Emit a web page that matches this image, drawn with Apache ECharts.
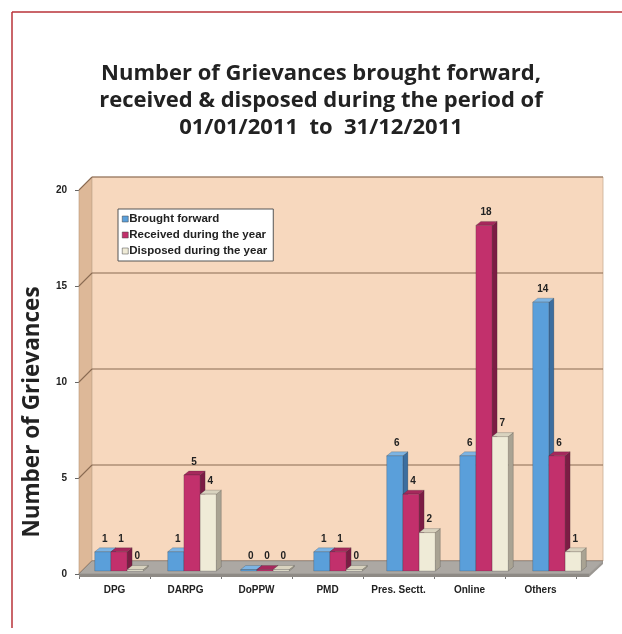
<!DOCTYPE html>
<html>
<head>
<meta charset="utf-8">
<script src="https://cdn.jsdelivr.net/npm/echarts@6/dist/echarts.min.js"></script>
<style>
  html, body { margin: 0; padding: 0; background: #ffffff; }
  #chart { width: 622px; height: 634px; }
</style>
</head>
<body>
<div id="chart"></div>
<script>
// Grievance counts per source, calendar year 2011
const categories = ['DPG', 'DARPG', 'DoPPW', 'PMD', 'Pres. Sectt.', 'Online', 'Others'];
const broughtForward = [1, 1, 0, 1, 6, 6, 14];
const receivedDuringYear = [1, 5, 0, 1, 4, 18, 6];
const disposedDuringYear = [0, 4, 0, 0, 2, 7, 1];
const seriesNames = ['Brought forward', 'Received during the year', 'Disposed during the year'];
const yTicks = [0, 5, 10, 15, 20];

const LABEL_FONT = '"Liberation Sans", Arial, sans-serif';
const TITLE_FONT = '"Open Sans", Lato, sans-serif';

// front / right side / top face colours of each 3D column
const faces = [
  { front: '#5A9FDA', side: '#3C6E9F', top: '#7DB4E3' },
  { front: '#C2306C', side: '#7C1C44', top: '#A6285C' },
  { front: '#EFEBD7', side: '#A9A393', top: '#D9D3BF' }
];

// 3D column: front rectangle plus the top and right side faces
function columnRenderer(slot) {
  const c = faces[slot];
  return function (params, api) {
    const cs = params.coordSys;
    const idx = api.value(0);
    const val = api.value(1);
    const base = api.coord([idx, 0]);
    const tip = api.coord([idx, val]);
    const catW = api.size([1, 0])[0];
    const bw = catW * 0.228;
    const frac = (base[0] - cs.x) / cs.width;
    const shift = 3.5 + 14 * frac;
    const x = base[0] + shift + (slot - 1.5) * bw;
    const y0 = base[1] - 3;
    let yt = tip[1] - 3;
    if (y0 - yt < 1.5) yt = y0 - 1.5;
    const dx = 5, dy = -4;
    const edge = { stroke: 'rgba(40,40,40,0.35)', lineWidth: 0.6 };
    return {
      type: 'group',
      children: [
        { type: 'polygon', shape: { points: [[x + bw, yt], [x + bw + dx, yt + dy], [x + bw + dx, y0 + dy], [x + bw, y0]] },
          style: Object.assign({ fill: c.side }, edge) },
        { type: 'polygon', shape: { points: [[x, yt], [x + dx, yt + dy], [x + bw + dx, yt + dy], [x + bw, yt]] },
          style: Object.assign({ fill: c.top }, edge) },
        { type: 'rect', shape: { x: x, y: yt, width: bw, height: y0 - yt },
          style: Object.assign({ fill: c.front }, edge) },
        { type: 'text', x: x + bw / 2 + 2, y: yt + dy - 4,
          style: { text: String(val), fill: '#222', font: 'bold 10px ' + LABEL_FONT, align: 'center', verticalAlign: 'bottom' } }
      ]
    };
  };
}

// walls, floor and the gridlines painted on the back wall
function frameRenderer(params, api) {
  const cs = params.coordSys;
  const v = api.value(1);
  const y = api.coord([0, v])[1];
  const L = cs.x, R = cs.x + cs.width;
  const yTop = cs.y, yBot = cs.y + cs.height;
  const dxL = 13, dxR = 27, dy = -13;
  const children = [];
  if (params.dataIndex === 0) {
    children.push({ type: 'polygon', shape: { points: [[L, yBot], [L, yTop], [L + dxL, yTop + dy], [L + dxL, yBot + dy]] },
      style: { fill: '#DDB898', stroke: '#B9977A', lineWidth: 0.6 } });
    children.push({ type: 'rect', shape: { x: L + dxL, y: yTop + dy, width: R + dxR - L - dxL, height: yBot - yTop },
      style: { fill: '#F7D8BE', stroke: '#C9AE96', lineWidth: 0.8 } });
  }
  const line = { stroke: '#8A6A52', lineWidth: 1.1 };
  children.push({ type: 'line', shape: { x1: L, y1: y, x2: L + dxL, y2: y + dy }, style: line });
  children.push({ type: 'line', shape: { x1: L + dxL, y1: y + dy, x2: R + dxR, y2: y + dy }, style: line });
  if (params.dataIndex === 0) {
    children.push({ type: 'polygon', shape: { points: [[L, yBot], [L + dxL, yBot + dy], [R + dxR, yBot + dy], [R + 13, yBot]] },
      style: { fill: '#ACA8A3', stroke: '#8C8883', lineWidth: 0.6 } });
    children.push({ type: 'polygon', shape: { points: [[L, yBot], [R + 13, yBot], [R + 13, yBot + 3], [L, yBot + 3]] },
      style: { fill: '#8E8A85' } });
    children.push({ type: 'polygon', shape: { points: [[R + 13, yBot], [R + dxR, yBot + dy], [R + dxR, yBot + dy + 3], [R + 13, yBot + 3]] },
      style: { fill: '#9A9691' } });
  }
  return { type: 'group', children: children };
}

const seriesData = [broughtForward, receivedDuringYear, disposedDuringYear];

const chart = echarts.init(document.getElementById('chart'), null, { renderer: 'canvas' });
chart.setOption({
  backgroundColor: '#ffffff',
  animation: false,
  title: {
    text: 'Number of Grievances brought forward,\nreceived & disposed during the period of\n01/01/2011  to  31/12/2011',
    left: 316, top: 55, textAlign: 'center',
    textStyle: { fontFamily: TITLE_FONT, fontWeight: 'bold', fontSize: 22, lineHeight: 27, color: '#222' }
  },
  legend: {
    data: seriesNames,
    orient: 'vertical',
    left: 118, top: 209,
    icon: 'rect', itemWidth: 6, itemHeight: 6, itemGap: 4,
    padding: [4, 6, 4, 4],
    backgroundColor: '#ffffff', borderColor: '#555', borderWidth: 1,
    itemStyle: { borderColor: '#444', borderWidth: 0.5 },
    textStyle: { fontFamily: LABEL_FONT, fontWeight: 'bold', fontSize: 11.5, lineHeight: 12, color: '#222', padding: [0, 0, 0, -4] }
  },
  grid: { left: 79, top: 190, width: 497, height: 384 },
  xAxis: {
    type: 'category',
    data: categories,
    axisLine: { show: false },
    axisTick: { show: true, length: 5, lineStyle: { color: '#777' } },
    axisLabel: { margin: 11, fontFamily: LABEL_FONT, fontWeight: 'bold', fontSize: 10, color: '#222', interval: 0 },
    splitLine: { show: false }
  },
  yAxis: {
    type: 'value', min: 0, max: 20, interval: 5,
    axisLine: { show: true, lineStyle: { color: '#666' } },
    axisTick: { show: true, length: 4, lineStyle: { color: '#666' } },
    axisLabel: { margin: 12, fontFamily: LABEL_FONT, fontWeight: 'bold', fontSize: 10, color: '#222' },
    splitLine: { show: false }
  },
  graphic: [
    { type: 'line', shape: { x1: 12, y1: 12, x2: 622, y2: 12 }, style: { stroke: '#B83238', lineWidth: 1.5 }, silent: true },
    { type: 'line', shape: { x1: 12, y1: 12, x2: 12, y2: 628 }, style: { stroke: '#B83238', lineWidth: 1.5 }, silent: true },
    { type: 'text', x: 33, y: 412, rotation: Math.PI / 2,
      style: { text: 'Number of Grievances', fill: '#222', font: 'bold 22.5px ' + TITLE_FONT, align: 'center', verticalAlign: 'middle' } }
  ],
  series: [
    { type: 'custom', name: 'frame', z: 1, silent: true, renderItem: frameRenderer,
      data: yTicks.map(function (v) { return [0, v]; }) }
  ].concat(seriesData.map(function (vals, s) {
    return {
      type: 'custom', name: seriesNames[s], z: 2 + s,
      itemStyle: { color: faces[s].front },
      renderItem: columnRenderer(s),
      data: vals.map(function (v, i) { return [i, v]; })
    };
  }))
});
</script>
</body>
</html>
